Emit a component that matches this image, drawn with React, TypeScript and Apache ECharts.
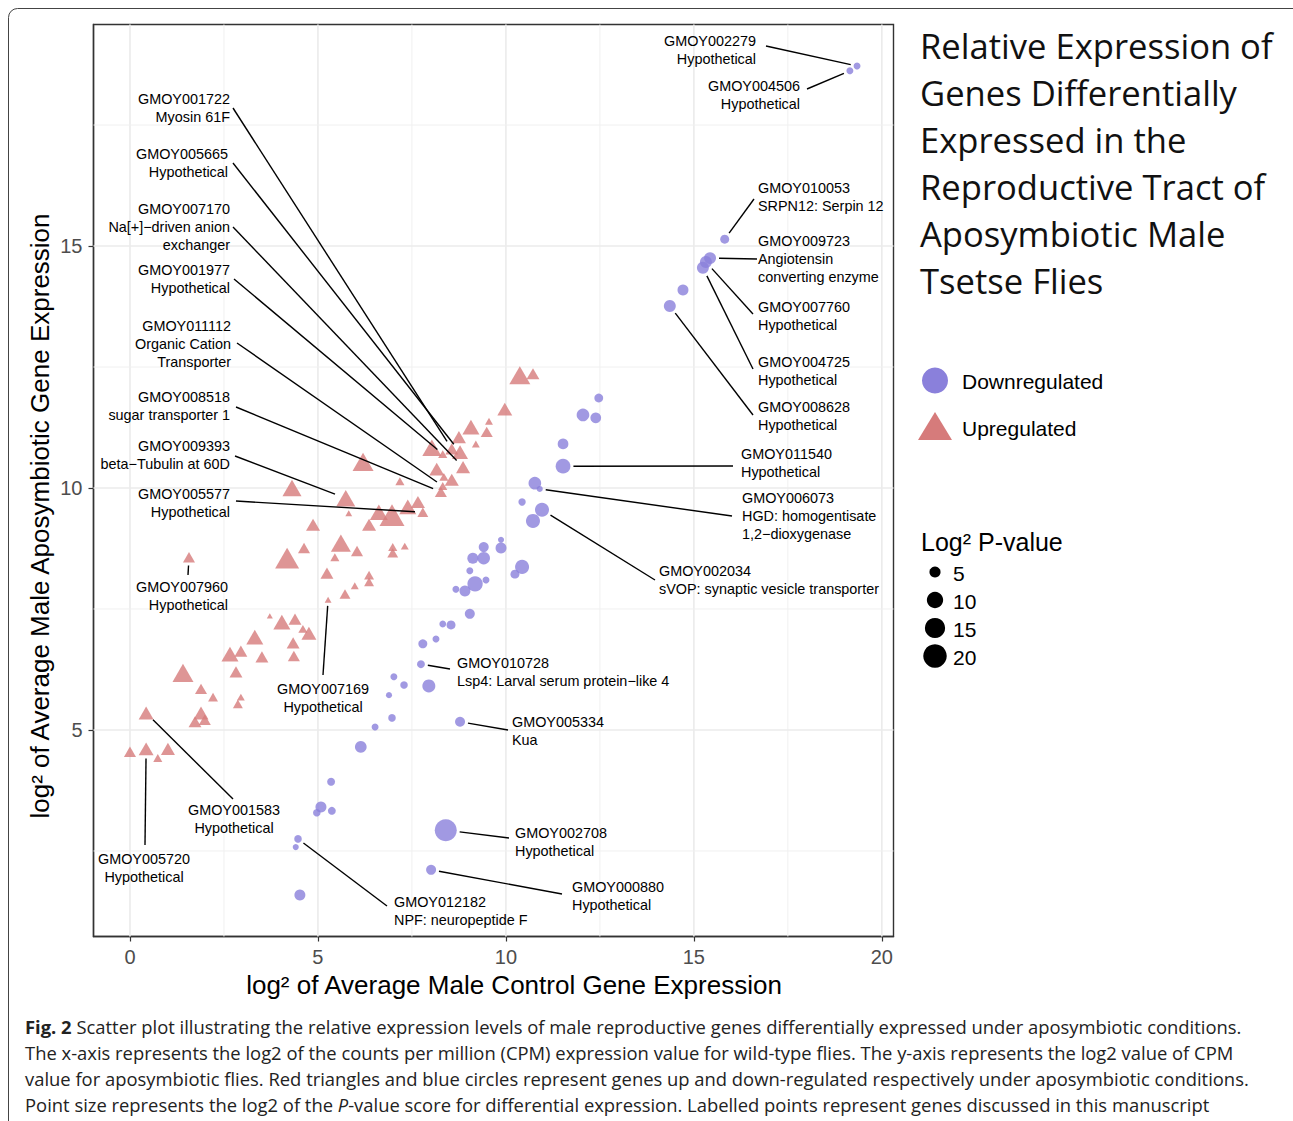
import React, { useEffect, useRef } from "react";
import * as echarts from "echarts";

// ---------- axis values ----------
const X_TICKS = [0, 5, 10, 15, 20];
const X_MINOR = [2.5, 7.5, 12.5, 17.5];
const Y_TICKS = [5, 10, 15];
const Y_MINOR = [2.5, 7.5, 12.5, 17.5];
const X_RANGE = [-0.97, 20.31];
const Y_RANGE = [0.733, 19.577];

// ---------- upregulated genes (triangles) ----------
const UP_X = [10.37, 10.72, 9.97, 9.07, 9.55, 9.49, 9.2, 8.75, 8.78, 8.03,
  8.32, 8.56, 8.86, 8.16, 8.35, 8.56, 8.27, 8.32, 6.2, 7.18,
  4.31, 5.74, 5.82, 6.62, 6.97, 7.39, 7.66, 7.79, 6.36, 4.87,
  5.61, 6.04, 4.63, 4.18, 5.45, 6.99, 7.31, 6.99, 1.57, 5.24,
  5.72, 5.98, 5.27, 3.72, 4.04, 4.39, 4.6, 4.76, 4.34, 4.36,
  3.32, 2.95, 2.66, 3.51, 2.82, 1.41, 1.89, 2.21, 2.95, 2.87,
  1.89, 1.99, 1.73, 0.43, 0.0, 0.43, 0.74, 1.01, 6.36, 6.36];
const UP_Y = [12.33, 12.36, 11.63, 11.26, 11.38, 11.16, 10.91, 11.05, 10.74, 10.83,
  10.7, 10.81, 10.43, 10.39, 10.23, 10.17, 9.92, 10.04, 10.54, 10.14,
  10.0, 9.79, 9.48, 9.5, 9.44, 9.61, 9.71, 9.5, 9.24, 9.24,
  8.86, 8.7, 8.76, 8.55, 8.57, 8.78, 8.8, 8.66, 8.57, 8.24,
  7.81, 7.98, 7.69, 7.36, 7.23, 7.29, 7.09, 7.0, 6.8, 6.53,
  6.92, 6.63, 6.57, 6.51, 6.2, 6.18, 5.85, 5.68, 5.68, 5.54,
  5.35, 5.21, 5.17, 5.35, 4.55, 4.61, 4.42, 4.61, 8.2, 8.06];
const UP_P = [9.2, 3.9, 5.0, 6.3, 1.9, 3.5, 1.9, 4.5, 5.6, 7.7,
  2.3, 3.9, 4.5, 5.0, 2.3, 4.5, 3.5, 2.3, 9.2, 2.3,
  7.7, 7.7, 1.6, 6.9, 12.7, 6.3, 4.5, 3.0, 4.5, 4.5,
  8.4, 3.5, 3.5, 11.8, 2.3, 2.3, 1.9, 3.0, 3.5, 3.9,
  3.0, 1.9, 1.6, 1.4, 6.3, 3.9, 2.3, 5.0, 3.9, 3.5,
  6.3, 3.9, 6.3, 3.9, 3.9, 9.2, 3.5, 2.6, 1.9, 2.6,
  5.0, 3.5, 3.9, 5.0, 3.5, 5.0, 2.3, 4.5, 2.6, 2.6];

// ---------- downregulated genes (circles) ----------
const DOWN_X = [19.34, 19.15, 15.82, 15.43, 15.32, 15.24, 14.71, 14.36, 12.47, 12.05,
  12.39, 11.52, 11.52, 10.77, 10.9, 10.43, 10.96, 10.72, 9.41, 9.87,
  9.87, 9.12, 9.41, 9.04, 9.18, 8.91, 8.67, 9.47, 10.43, 10.24,
  9.04, 8.32, 8.54, 8.14, 7.79, 7.74, 7.95, 7.02, 7.29, 6.89,
  6.97, 6.52, 8.78, 6.14, 5.35, 5.08, 4.97, 5.37, 4.47, 4.41,
  4.52, 8.4, 8.01];
const DOWN_Y = [18.72, 18.62, 15.14, 14.75, 14.67, 14.55, 14.09, 13.76, 11.86, 11.51,
  11.45, 10.91, 10.45, 10.1, 9.98, 9.71, 9.55, 9.32, 8.78, 8.93,
  8.76, 8.55, 8.55, 8.29, 8.02, 7.87, 7.91, 8.1, 8.37, 8.22,
  7.4, 7.19, 7.17, 6.88, 6.78, 6.36, 5.91, 6.1, 5.93, 5.72,
  5.25, 5.06, 5.17, 4.65, 3.93, 3.41, 3.29, 3.33, 2.75, 2.58,
  1.59, 2.93, 2.11];
const DOWN_P = [2.4, 2.4, 3.5, 5.7, 5.7, 5.7, 4.9, 5.7, 3.4, 6.3,
  4.7, 4.7, 8.3, 6.3, 2.0, 2.6, 7.6, 7.6, 4.2, 2.0,
  4.9, 4.9, 6.2, 2.4, 8.9, 4.9, 2.4, 2.4, 7.6, 3.5,
  4.2, 2.3, 3.5, 2.4, 3.5, 2.9, 6.6, 2.4, 2.7, 2.0,
  2.7, 2.4, 4.2, 5.5, 2.9, 4.9, 2.7, 2.9, 2.7, 2.0,
  4.9, 17.6, 4.2];

const SIZE_BREAKS = [5, 10, 15, 20];

// ---------- labelled genes ----------
const LABEL_GENE = ["GMOY001722", "GMOY005665", "GMOY007170", "GMOY001977", "GMOY011112",
  "GMOY008518", "GMOY009393", "GMOY005577", "GMOY007960", "GMOY007169", "GMOY001583",
  "GMOY005720", "GMOY012182", "GMOY000880", "GMOY002708", "GMOY005334", "GMOY010728",
  "GMOY002034", "GMOY006073", "GMOY011540", "GMOY008628", "GMOY004725", "GMOY007760",
  "GMOY009723", "GMOY010053", "GMOY004506", "GMOY002279"];
const LABEL_DESC = ["Myosin 61F", "Hypothetical", "Na[+]\u2212driven anion\nexchanger", "Hypothetical",
  "Organic Cation\nTransporter", "sugar transporter 1", "beta\u2212Tubulin at 60D", "Hypothetical",
  "Hypothetical", "Hypothetical", "Hypothetical", "Hypothetical", "NPF: neuropeptide F",
  "Hypothetical", "Hypothetical", "Kua", "Lsp4: Larval serum protein\u2212like 4",
  "sVOP: synaptic vesicle transporter", "HGD: homogentisate\n1,2\u2212dioxygenase", "Hypothetical",
  "Hypothetical", "Hypothetical", "Hypothetical", "Angiotensin\nconverting enzyme",
  "SRPN12: Serpin 12", "Hypothetical", "Hypothetical"];
const LABEL_SERIES = ["up", "up", "up", "up", "up", "up", "up", "up", "up", "up", "up", "up",
  "down", "down", "down", "down", "down", "down", "down", "down", "down", "down", "down",
  "down", "down", "down", "down"];
const LABEL_POINT = [11, 8, 12, 10, 17, 16, 21, 27, 38, 42, 63, 65,
  48, 52, 51, 42, 35, 16, 14, 12, 7, 5, 4, 3, 2, 1, 0];

// label layout (pixels): text x, first-line y, alignment, segment start x, y
const LABEL_LAYOUT: [number, number, string, number, number][] = [
  [230, 99, "right", 233, 108],
  [228, 154, "right", 233, 163],
  [230, 209, "right", 233, 227],
  [230, 270, "right", 234, 279],
  [231, 326, "right", 237, 343],
  [230, 397, "right", 236, 407],
  [230, 446, "right", 235, 456],
  [230, 494, "right", 236, 501],
  [228, 587, "right", 188, 575],
  [323, 689, "center", 323, 675],
  [234, 810, "center", 233, 799],
  [144, 859, "center", 145, 845],
  [394, 902, "left", 387, 906],
  [572, 887, "left", 562, 894],
  [515, 833, "left", 509, 838],
  [512, 722, "left", 508, 730],
  [457, 663, "left", 450, 669],
  [659, 571, "left", 655, 580],
  [742, 498, "left", 732, 516],
  [741, 454, "left", 733, 466],
  [758, 407, "left", 753, 415],
  [758, 362, "left", 753, 369],
  [758, 307, "left", 753, 314],
  [758, 241, "left", 757, 259],
  [758, 188, "left", 754, 199],
  [800, 86, "right", 807, 89],
  [756, 41, "right", 766, 46],
];

const TITLE_LINES = ["Relative Expression of", "Genes Differentially", "Expressed in the",
  "Reproductive Tract of", "Aposymbiotic Male", "Tsetse Flies"];
const CAPTION_LINES = [
  "{b|Fig. 2} Scatter plot illustrating the relative expression levels of male reproductive genes differentially expressed under aposymbiotic conditions.",
  "The x-axis represents the log2 of the counts per million (CPM) expression value for wild-type flies. The y-axis represents the log2 value of CPM",
  "value for aposymbiotic flies. Red triangles and blue circles represent genes up and down-regulated respectively under aposymbiotic conditions.",
  "Point size represents the log2 of the {i|P}-value score for differential expression. Labelled points represent genes discussed in this manuscript",
];

const SANS = "'Liberation Sans', Arial, Helvetica, sans-serif";
const TITLE_FONT = "'Open Sans', 'Liberation Sans', sans-serif";
const DOWN_COLOR = "#8A80DB";
const UP_COLOR = "#D67B7B";
const CAPTION_SIZE = 18.4;

const diam = (p: number) => Math.sqrt(Math.max(28.6 * p - 20, 9));

export default function App() {
  const ref = useRef<HTMLDivElement>(null);
  useEffect(() => {
    if (!ref.current) return;
    const chart = echarts.init(ref.current, undefined, { renderer: "svg" });

    const upData = UP_X.map((x, i) => [x, UP_Y[i], UP_P[i]]);
    const downData = DOWN_X.map((x, i) => [x, DOWN_Y[i], DOWN_P[i]]);
    const gridData = [
      ...X_TICKS.map((v) => [v, 10, 0]),
      ...X_MINOR.map((v) => [v, 10, 1]),
      ...Y_TICKS.map((v) => [10, v, 2]),
      ...Y_MINOR.map((v) => [10, v, 3]),
    ];
    const labelData = LABEL_GENE.map((g, i) => {
      const k = LABEL_POINT[i];
      const up = LABEL_SERIES[i] === "up";
      return up ? [UP_X[k], UP_Y[k], i, UP_P[k]] : [DOWN_X[k], DOWN_Y[k], i, DOWN_P[k]];
    });

    const sizeLegendY = [572, 600, 628, 656];

    const graphic: any[] = [
      {
        type: "rect", silent: true, z: -10,
        shape: { x: 8.5, y: 8.5, width: 1320, height: 1200, r: 9 },
        style: { fill: "none", stroke: "#444", lineWidth: 1 },
      },
      {
        type: "text", x: 40, y: 516, rotation: Math.PI / 2,
        style: { text: "log\u00b2 of Average Male Aposymbiotic Gene Expression", fontSize: 26, fontFamily: SANS, fill: "#000", align: "center", verticalAlign: "middle" },
      },
      {
        type: "text", x: 514, y: 985,
        style: { text: "log\u00b2 of Average Male Control Gene Expression", fontSize: 26, fontFamily: SANS, fill: "#000", align: "center", verticalAlign: "middle" },
      },
      {
        type: "text", x: 920, y: 21.5,
        style: { text: TITLE_LINES.join("\n"), fontSize: 34.6, lineHeight: 47, fontFamily: TITLE_FONT, fill: "#111", align: "left", verticalAlign: "top" },
      },
      { type: "circle", shape: { cx: 935, cy: 380.5, r: 13 }, style: { fill: DOWN_COLOR } },
      { type: "polygon", shape: { points: [[918, 440], [952, 440], [935, 412]] }, style: { fill: UP_COLOR } },
      { type: "text", x: 962, y: 381, style: { text: "Downregulated", fontSize: 21, fontFamily: SANS, fill: "#000", verticalAlign: "middle" } },
      { type: "text", x: 962, y: 428, style: { text: "Upregulated", fontSize: 21, fontFamily: SANS, fill: "#000", verticalAlign: "middle" } },
      { type: "text", x: 921, y: 542, style: { text: "Log\u00b2 P-value", fontSize: 25, fontFamily: SANS, fill: "#000", verticalAlign: "middle" } },
      ...SIZE_BREAKS.map((v, k) => ({
        type: "circle", shape: { cx: 935, cy: sizeLegendY[k], r: diam(v) / 2 }, style: { fill: "#000" },
      })),
      ...SIZE_BREAKS.map((v, k) => ({
        type: "text", x: 953, y: sizeLegendY[k] + 1,
        style: { text: String(v), fontSize: 21, fontFamily: SANS, fill: "#000", verticalAlign: "middle" },
      })),
      ...CAPTION_LINES.map((t, k) => ({
        type: "text", x: 25, y: 1026 + k * 26.3,
        style: {
          text: t, fontSize: CAPTION_SIZE, fontFamily: TITLE_FONT, fill: "#222", verticalAlign: "middle",
          rich: {
            b: { fontWeight: "bold", fontSize: CAPTION_SIZE, fontFamily: TITLE_FONT, fill: "#222" },
            i: { fontStyle: "italic", fontSize: CAPTION_SIZE, fontFamily: TITLE_FONT, fill: "#222" },
          },
        },
      })),
    ];

    chart.setOption({
      animation: false,
      backgroundColor: "#fff",
      grid: {
        left: 93.5, top: 24.5, width: 800, height: 912,
        show: true, borderColor: "#333", borderWidth: 1.4, backgroundColor: "#fff",
      },
      xAxis: {
        type: "value", min: X_RANGE[0], max: X_RANGE[1],
        axisLine: { show: true, onZero: false, lineStyle: { color: "#333", width: 1.4 } },
        splitLine: { show: false },
        axisTick: { show: true, length: 5, customValues: X_TICKS, lineStyle: { color: "#333", width: 1.2 } },
        axisLabel: { customValues: X_TICKS, margin: 10, fontSize: 20, color: "#4D4D4D", fontFamily: SANS },
      },
      yAxis: {
        type: "value", min: Y_RANGE[0], max: Y_RANGE[1],
        axisLine: { show: true, onZero: false, lineStyle: { color: "#333", width: 1.4 } },
        splitLine: { show: false },
        axisTick: { show: true, length: 5, customValues: Y_TICKS, lineStyle: { color: "#333", width: 1.2 } },
        axisLabel: { customValues: Y_TICKS, margin: 11, fontSize: 20, color: "#4D4D4D", fontFamily: SANS },
      },
      graphic,
      series: [
        {
          type: "custom", name: "grid", z: 1, silent: true, clip: false,
          data: gridData,
          renderItem: (params: any, api: any) => {
            const cs = params.coordSys;
            const kind = api.value(2);
            const major = kind === 0 || kind === 2;
            const style = { stroke: major ? "#EBEBEB" : "#F0F0F0", lineWidth: major ? 1.6 : 1.0 };
            const pt = api.coord([api.value(0), api.value(1)]);
            if (kind < 2) {
              return { type: "line", shape: { x1: pt[0], y1: cs.y, x2: pt[0], y2: cs.y + cs.height }, style };
            }
            return { type: "line", shape: { x1: cs.x, y1: pt[1], x2: cs.x + cs.width, y2: pt[1] }, style };
          },
        },
        {
          type: "scatter", name: "Downregulated", z: 2,
          data: downData,
          symbol: "circle",
          symbolSize: (v: number[]) => diam(v[2]),
          itemStyle: { color: DOWN_COLOR },
        },
        {
          type: "scatter", name: "Upregulated", z: 2,
          data: upData,
          symbol: "triangle",
          symbolSize: (v: number[]) => {
            const d = diam(v[2]);
            return [1.347 * d, 1.166 * d];
          },
          itemStyle: { color: UP_COLOR },
        },
        {
          type: "custom", name: "labels", z: 3, silent: true, clip: false,
          data: labelData,
          renderItem: (params: any, api: any) => {
            const i = api.value(2);
            const p = api.value(3);
            const pt = api.coord([api.value(0), api.value(1)]);
            const L = LABEL_LAYOUT[i];
            const up = LABEL_SERIES[i] === "up";
            const d = diam(p);
            const pad = (up ? 0.6 * d : 0.5 * d) + 3;
            const dx = pt[0] - L[3];
            const dy = pt[1] - L[4];
            const len = Math.hypot(dx, dy) || 1;
            const ex = pt[0] - (dx / len) * pad;
            const ey = pt[1] - (dy / len) * pad;
            return {
              type: "group",
              children: [
                { type: "line", shape: { x1: L[3], y1: L[4], x2: ex, y2: ey }, style: { stroke: "#000", lineWidth: 1.4 } },
                {
                  type: "text",
                  style: {
                    text: LABEL_GENE[i] + "\n" + LABEL_DESC[i],
                    x: L[0], y: L[1] - 9, align: L[2], verticalAlign: "top",
                    fontSize: 14.4, lineHeight: 18, fontFamily: SANS, fill: "#000",
                  },
                },
              ],
            };
          },
        },
      ],
    });
    return () => chart.dispose();
  }, []);
  return <div ref={ref} style={{ position: "fixed", left: 0, top: 0, width: 1293, height: 1121 }} />;
}
